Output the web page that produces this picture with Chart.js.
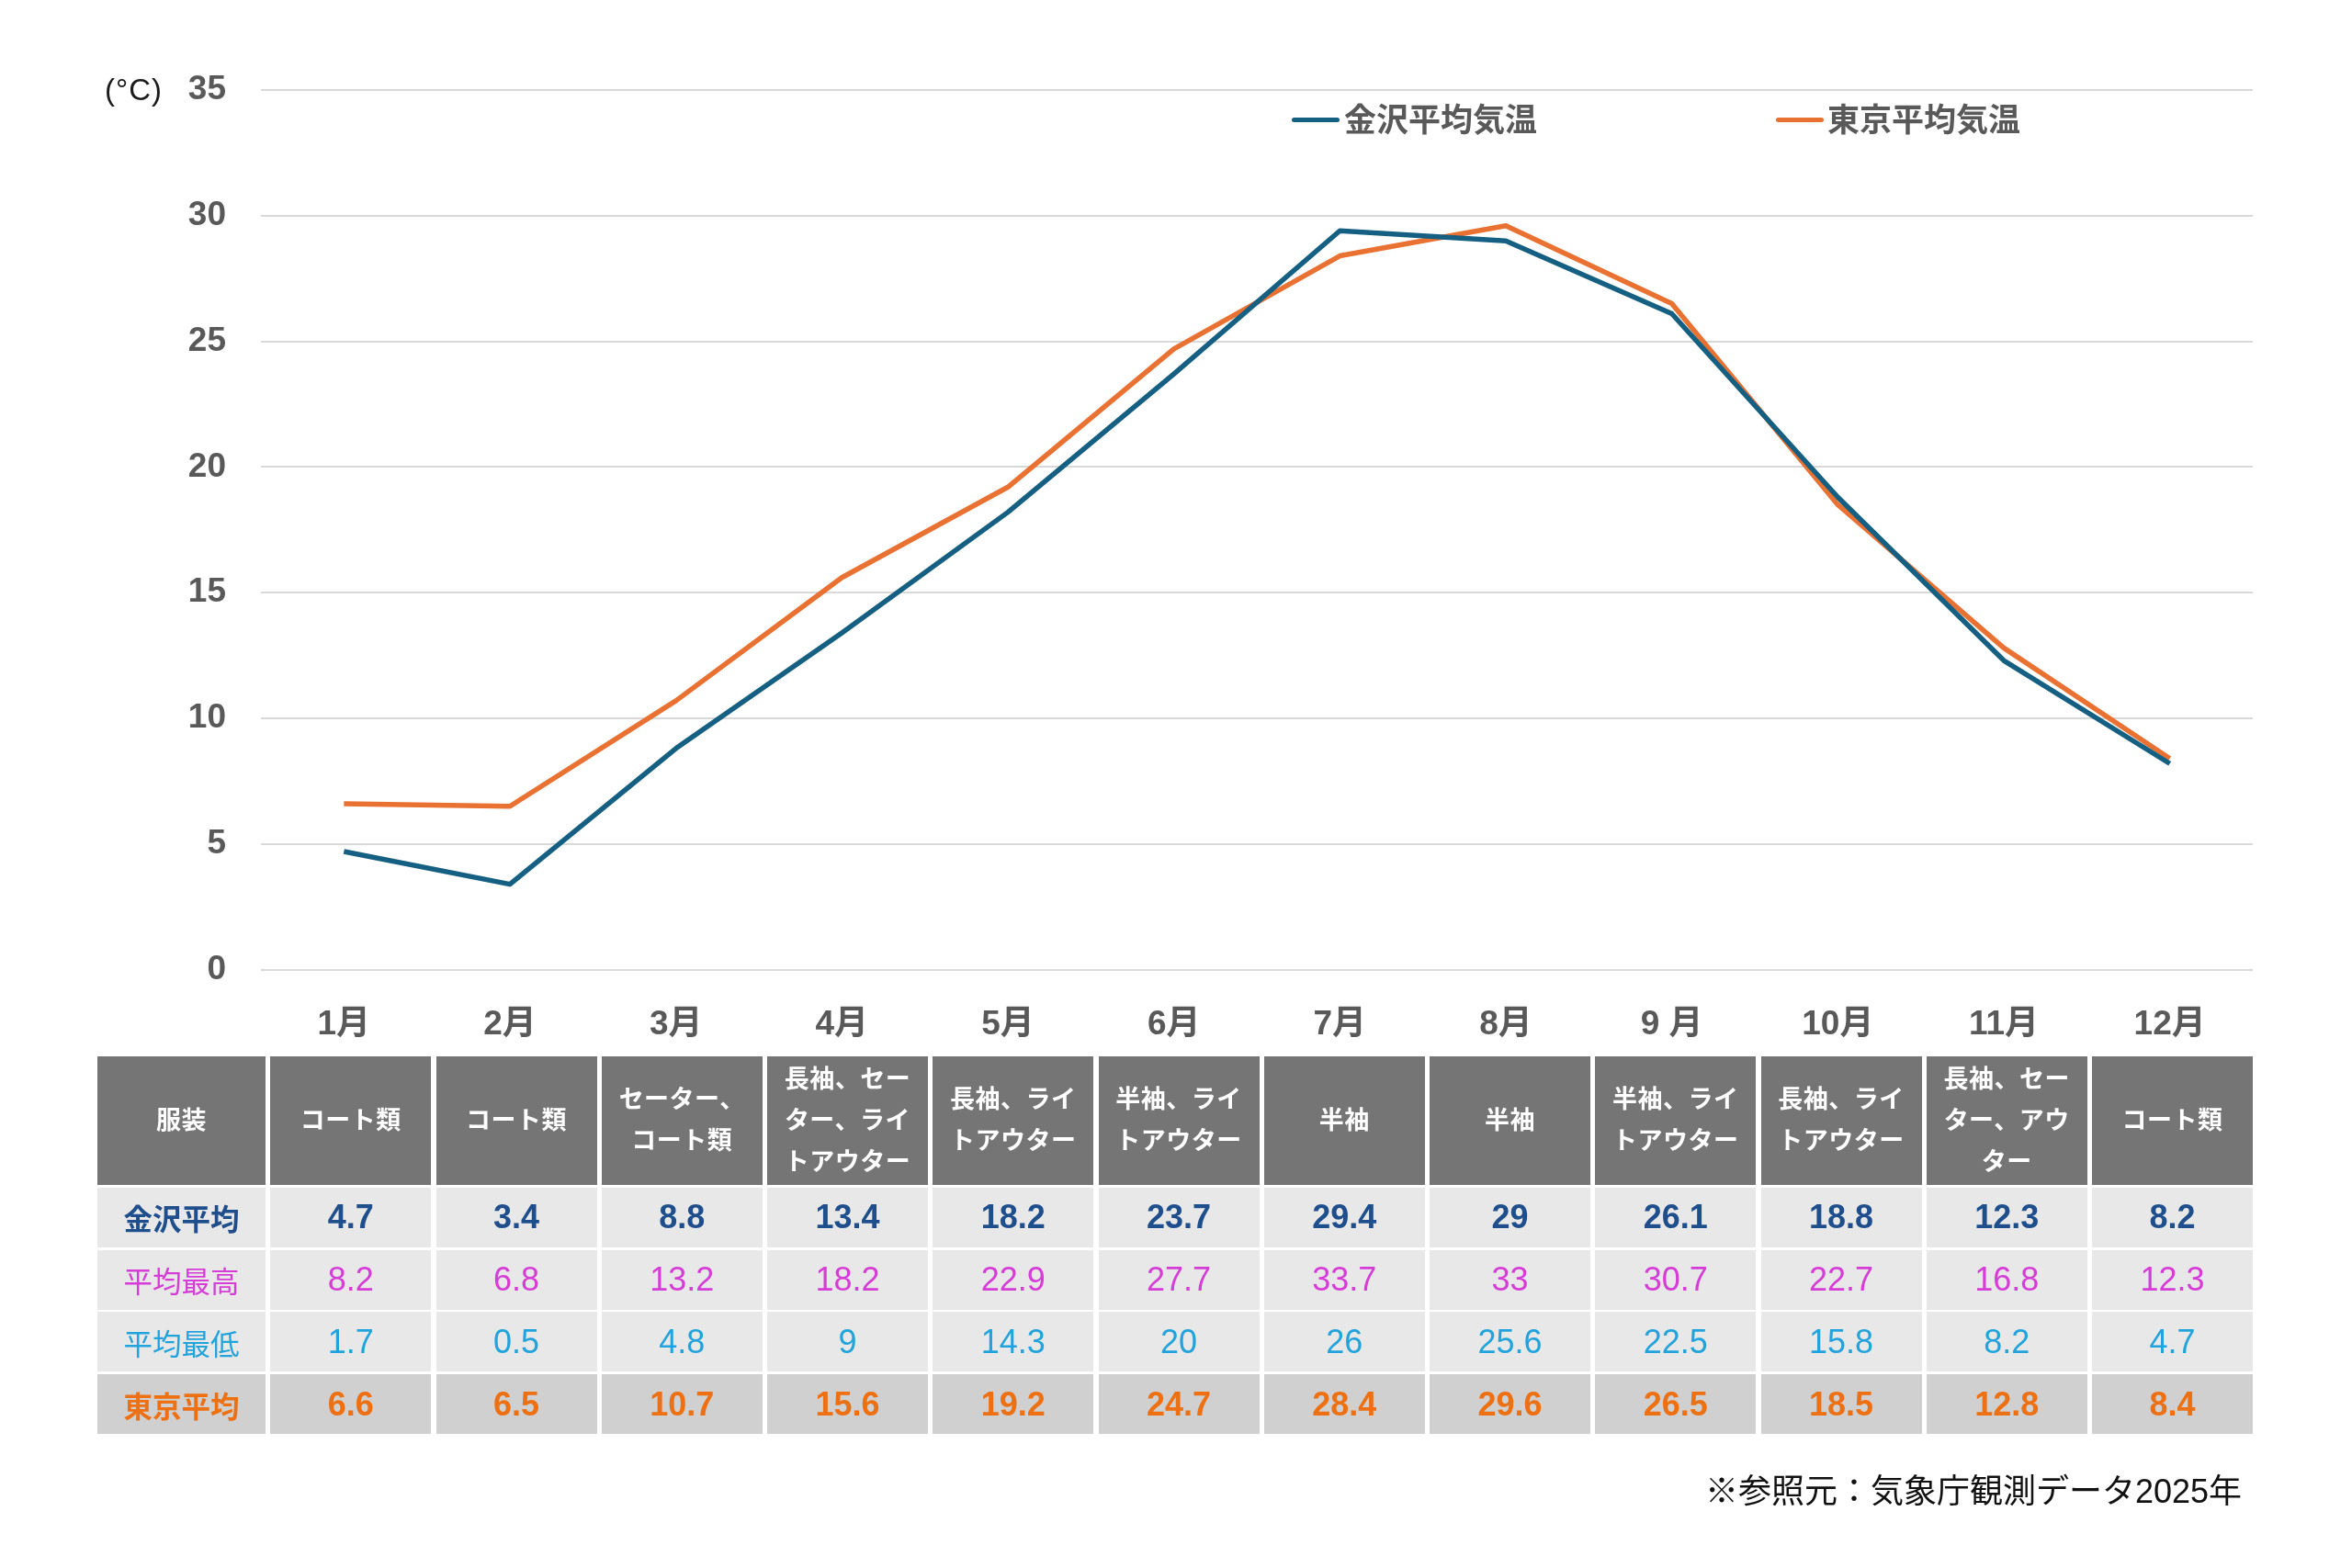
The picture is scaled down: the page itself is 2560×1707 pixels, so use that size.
<!DOCTYPE html>
<html lang="ja">
<head>
<meta charset="utf-8">
<script src="https://cdn.jsdelivr.net/npm/chart.js@4.4.1/dist/chart.umd.min.js"></script>
<style>
  html, body { margin: 0; padding: 0; background: #ffffff; }
  #wrap { position: relative; width: 2560px; height: 1707px; overflow: hidden; background: #fff; }
  #chart { position: absolute; left: 0; top: 0; }
  .ov { position: absolute; white-space: nowrap; font-family: 'Liberation Sans', 'Noto Sans CJK JP', sans-serif; }
  .leg-line { position: absolute; height: 5px; border-radius: 3px; }
  .leg-text { position: absolute; font-size: 35px; font-weight: 700; color: #595959; line-height: 40px; }
  #table { position: absolute; left: 106px; top: 1150px; display: grid;
    grid-template-columns: 183px repeat(12, 175px); column-gap: 5.25px;
    grid-template-rows: 140px repeat(4, 65px); row-gap: 2.75px;
    font-family: 'Liberation Sans', 'Noto Sans CJK JP', sans-serif; }
  .cell { display: flex; align-items: center; justify-content: center; text-align: center; }
  .hdr { background: #757575; color: #ffffff; font-size: 27px; font-weight: 700; line-height: 45px; letter-spacing: 0.5px; }
  .row { background: #e8e8e8; }
  .row.last { background: #d0d0d0; }
  .lab { font-size: 31.5px; }
  .num { font-size: 36px; }
  .b { font-weight: 700; }
</style>
</head>
<body>
<div id="wrap">
  <canvas id="chart" width="2560" height="1707"></canvas>
</div>
<script>
// ---- data ----
const months = ['1月','2月','3月','4月','5月','6月','7月','8月','9 月','10月','11月','12月'];
const clothing = ['コート類','コート類','セーター、\nコート類','長袖、セー\nター、ライ\nトアウター','長袖、ライ\nトアウター','半袖、ライ\nトアウター','半袖','半袖','半袖、ライ\nトアウター','長袖、ライ\nトアウター','長袖、セー\nター、アウ\nター','コート類'];
const kanazawaAvg = [4.7, 3.4, 8.8, 13.4, 18.2, 23.7, 29.4, 29, 26.1, 18.8, 12.3, 8.2];
const kanazawaMax = [8.2, 6.8, 13.2, 18.2, 22.9, 27.7, 33.7, 33, 30.7, 22.7, 16.8, 12.3];
const kanazawaMin = [1.7, 0.5, 4.8, 9, 14.3, 20, 26, 25.6, 22.5, 15.8, 8.2, 4.7];
const tokyoAvg = [6.6, 6.5, 10.7, 15.6, 19.2, 24.7, 28.4, 29.6, 26.5, 18.5, 12.8, 8.4];
const seriesNames = ['金沢平均気温', '東京平均気温'];
const yTicks = [0, 5, 10, 15, 20, 25, 30, 35];
const unitLabel = '(°C)';
const tableHeader = '服装';
const rowLabels = ['金沢平均', '平均最高', '平均最低', '東京平均'];
const footnote = '※参照元：気象庁観測データ2025年';

// ---- style ----
const FONT = "'Liberation Sans', 'Noto Sans CJK JP', sans-serif";
const C_BLUE = '#156082', C_ORANGE = '#E97132', C_TEXT = '#595959', C_GRID = '#d9d9d9';
const rowColors = ['#1f4e8c', '#d63cd6', '#22a3dc', '#ed7012'];
const rowBold = [true, false, false, true];

Chart.defaults.font.family = FONT;

const chart = new Chart(document.getElementById('chart'), {
  type: 'line',
  data: {
    labels: months,
    datasets: [
      { label: seriesNames[0], data: kanazawaAvg, borderColor: C_BLUE, backgroundColor: C_BLUE, borderWidth: 5.5, pointRadius: 0, tension: 0, borderJoinStyle: 'round' },
      { label: seriesNames[1], data: tokyoAvg, borderColor: C_ORANGE, backgroundColor: C_ORANGE, borderWidth: 5.5, pointRadius: 0, tension: 0, borderJoinStyle: 'round' }
    ]
  },
  options: {
    responsive: false,
    animation: false,
    devicePixelRatio: 1,
    layout: { padding: { left: 0, top: 98, right: 108, bottom: 539 } },
    plugins: { legend: { display: false }, tooltip: { enabled: false } },
    scales: {
      x: {
        offset: true,
        grid: { display: false },
        border: { display: false },
        ticks: { color: C_TEXT, font: { size: 37, weight: 'bold' }, padding: 30, maxRotation: 0, autoSkip: false }
      },
      y: {
        min: 0, max: 35,
        afterFit: (s) => { s.width = 284; },
        afterBuildTicks: (s) => { s.ticks = yTicks.map(v => ({ value: v })); },
        grid: { color: C_GRID, lineWidth: 2, drawTicks: false },
        border: { display: false },
        ticks: { color: C_TEXT, font: { size: 37, weight: 'bold' }, padding: 38 }
      }
    }
  }
});

// ---- overlays (real text) ----
const wrap = document.getElementById('wrap');
function addDiv(cls, style, text) {
  const d = document.createElement('div');
  d.className = cls;
  Object.assign(d.style, style);
  if (text !== undefined) d.textContent = text;
  wrap.appendChild(d);
  return d;
}

// unit label
addDiv('ov', { left: '114px', top: '78px', fontSize: '33px', lineHeight: '40px', color: '#1a1a1a', letterSpacing: '1px' }, unitLabel);

// legend
const legendPos = [{ line: 1406, text: 1463 }, { line: 1933, text: 1989 }];
const legendColors = [C_BLUE, C_ORANGE];
seriesNames.forEach((n, i) => {
  addDiv('leg-line', { left: legendPos[i].line + 'px', top: '128px', width: '52px', background: legendColors[i] });
  addDiv('ov leg-text', { left: legendPos[i].text + 'px', top: '111px' }, n);
});

// table
const table = document.createElement('div');
table.id = 'table';
wrap.appendChild(table);
function cell(cls, text, style) {
  const d = document.createElement('div');
  d.className = 'cell ' + cls;
  if (style) Object.assign(d.style, style);
  d.innerHTML = String(text).split('\n').map(s => s.replace(/&/g, '&amp;').replace(/</g, '&lt;')).join('<br>');
  table.appendChild(d);
  return d;
}
cell('hdr', tableHeader);
clothing.forEach(c => cell('hdr', c));
const rows = [kanazawaAvg, kanazawaMax, kanazawaMin, tokyoAvg];
rows.forEach((r, i) => {
  const last = i === rows.length - 1 ? ' last' : '';
  const b = rowBold[i] ? ' b' : '';
  cell('row lab' + last + b, rowLabels[i], { color: rowColors[i] });
  r.forEach(v => cell('row num' + last + b, String(v), { color: rowColors[i] }));
});

// footnote
const fn = addDiv('ov', { top: '1604px', fontSize: '36px', lineHeight: '40px', color: '#111' }, footnote);
fn.style.right = (2560 - 2440) + 'px';
</script>
</body>
</html>
